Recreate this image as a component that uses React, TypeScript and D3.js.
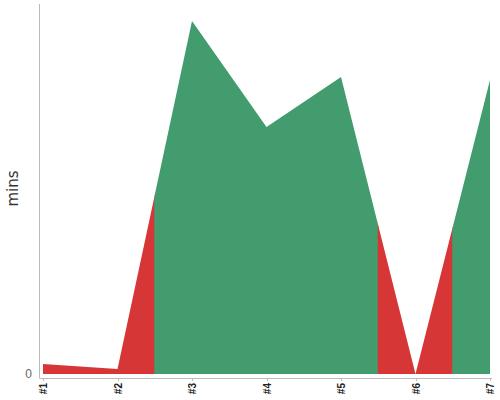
import React, { useRef, useEffect } from "react";
import * as d3 from "d3";

const labels = ["#1", "#2", "#3", "#4", "#5", "#6", "#7"];
const mins = [10, 5, 353, 247, 297, 0, 294];
const status = ["late", "late", "ok", "ok", "ok", "late", "ok"];

const dims = { width: 500, height: 400 };
const colour = { late: "#d73636", ok: "#439c6e" };

const App = () => {
    const canvas = useRef<SVGSVGElement | null>(null);

    useEffect(() => {
        const svg = d3.select(canvas.current);
        svg.selectAll("*").remove();

        const x = d3.scalePoint<string>().domain(labels).range([43, 490]);
        const y = d3.scaleLinear().domain([0, 370]).range([374, 4]);
        const step = x.step();

        const area = d3
            .area<number>()
            .x((d, i) => x(labels[i]) as number)
            .y0(y(0))
            .y1((d) => y(d));

        // group consecutive points with the same status into one run
        const runs: { s: string; from: number; to: number }[] = [];
        status.forEach((s, i) => {
            const last = runs[runs.length - 1];
            if (last && last.s === s) last.to = i;
            else runs.push({ s, from: i, to: i });
        });

        const defs = svg.append("defs");
        const graph = svg.append("g");
        runs.forEach((r, k) => {
            // overlap a little so no seam shows between runs
            const x0 = Math.max(43, (x(labels[r.from]) as number) - step / 2 - 0.5);
            const x1 = Math.min(490, (x(labels[r.to]) as number) + step / 2 + 0.5);
            defs.append("clipPath")
                .attr("id", "seg" + k)
                .append("rect")
                .attr("x", x0)
                .attr("y", 0)
                .attr("width", x1 - x0)
                .attr("height", dims.height);
            graph.append("path")
                .attr("d", area(mins))
                .attr("fill", colour[r.s as keyof typeof colour])
                .attr("clip-path", "url(#seg" + k + ")");
        });

        // x axis
        const xAxis = svg.append("g").attr("transform", "translate(0,378)");
        xAxis.append("line")
            .attr("x1", 39.5).attr("x2", 492)
            .attr("y1", 0.5).attr("y2", 0.5)
            .attr("stroke", "#bbb");
        labels.forEach((l) => {
            const cx = Math.round(x(l) as number) + 0.5;
            xAxis.append("line")
                .attr("x1", cx).attr("x2", cx)
                .attr("y1", 0.5).attr("y2", 3)
                .attr("stroke", "#bbb");
            xAxis.append("text")
                .attr("transform", `translate(${cx + 3.5},5) rotate(-90)`)
                .attr("text-anchor", "end")
                .attr("font-family", "Liberation Sans, Arial, sans-serif")
                .attr("font-size", 10)
                .attr("font-weight", "bold")
                .attr("fill", "#222")
                .text(l);
        });

        // y axis
        svg.append("line")
            .attr("x1", 39.5).attr("x2", 39.5)
            .attr("y1", 4).attr("y2", 378.5)
            .attr("stroke", "#bbb");
        svg.append("text")
            .attr("x", 32)
            .attr("y", 378)
            .attr("text-anchor", "end")
            .attr("font-family", "Liberation Sans, Arial, sans-serif")
            .attr("font-size", 12)
            .attr("fill", "#666")
            .text("0");
        svg.append("text")
            .attr("transform", "translate(18,188.5) rotate(-90)")
            .attr("text-anchor", "middle")
            .attr("font-family", "DejaVu Sans, sans-serif")
            .attr("font-size", 15)
            .attr("fill", "#333")
            .text("mins");
    }, []);

    return (
        <svg
            ref={canvas}
            width={dims.width}
            height={dims.height}
            style={{ position: "absolute", left: 0, top: 0 }}
        />
    );
};

export default App;
